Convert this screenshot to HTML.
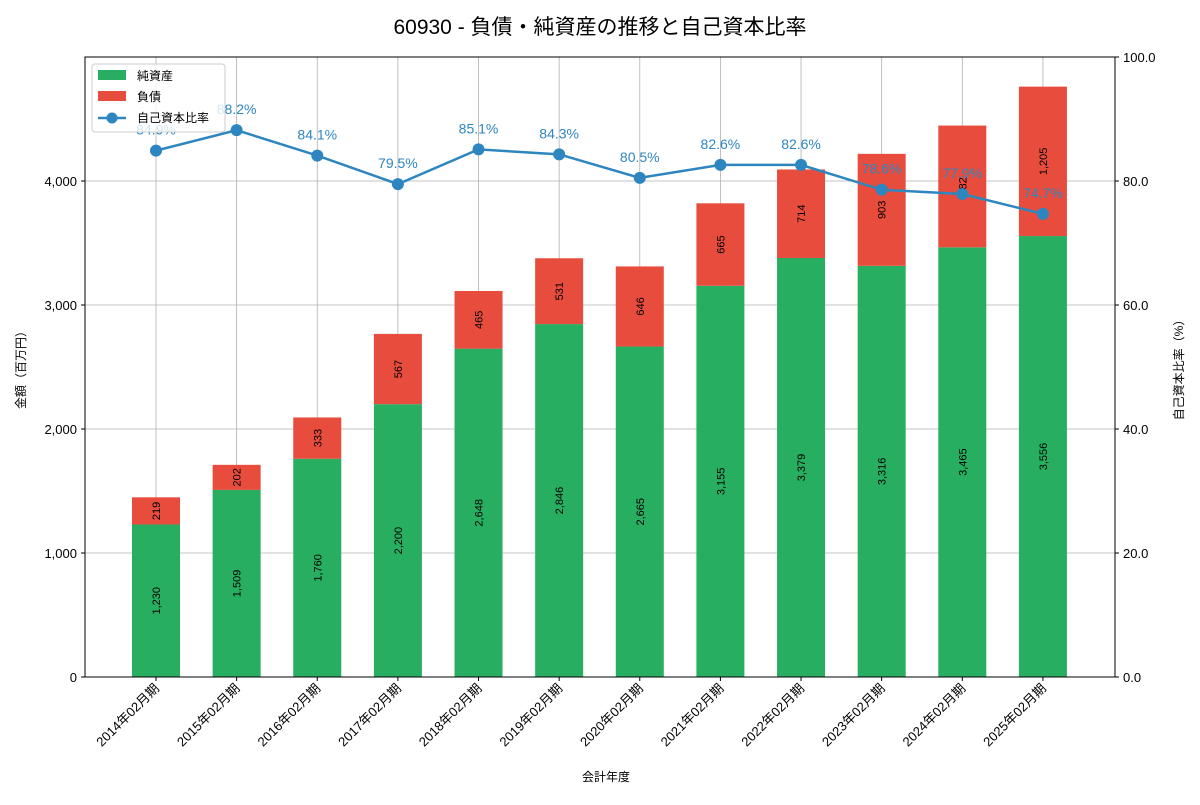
<!DOCTYPE html>
<html><head><meta charset="utf-8"><style>
body{margin:0;background:#fff;}
svg{font-family:"Liberation Sans","Noto Sans CJK JP",sans-serif;}
</style></head><body>
<svg id="c" width="1200" height="800" xmlns="http://www.w3.org/2000/svg">
<text x="600" y="34" text-anchor="middle" font-size="21" fill="#000">60930 - 負債・純資産の推移と自己資本比率</text>
<g id="grid"></g><g id="bars"></g><g id="line"></g><g id="axes"></g>
<text x="606" y="781" text-anchor="middle" font-size="12">会計年度</text>
<text transform="translate(25,367) rotate(-90)" text-anchor="middle" font-size="12">金額（百万円）</text>
<text transform="translate(1183,367) rotate(-90)" text-anchor="middle" font-size="12">自己資本比率（%）</text>
<g>
<rect x="92" y="64" width="133" height="68" fill="#fff" fill-opacity="0.8" stroke="#ccc" rx="3"/>
<rect x="98" y="70" width="28" height="10" fill="#27ae60"/><text x="137" y="80" font-size="12">純資産</text>
<rect x="98" y="91" width="28" height="10" fill="#e74c3c"/><text x="137" y="101" font-size="12">負債</text>
<line x1="98" y1="118" x2="126" y2="118" stroke="#2e86c1" stroke-width="2.5"/><circle cx="112" cy="118" r="5.5" fill="#2e86c1"/><text x="137" y="122" font-size="12">自己資本比率</text>
</g>
</svg>
<script>
const categories=["2014年02月期","2015年02月期","2016年02月期","2017年02月期","2018年02月期","2019年02月期","2020年02月期","2021年02月期","2022年02月期","2023年02月期","2024年02月期","2025年02月期"];
const equity=[1230,1509,1760,2200,2648,2846,2665,3155,3379,3316,3465,3556];
const debt=[219,202,333,567,465,531,646,665,714,903,982,1205];
const ratio=[84.9,88.2,84.1,79.5,85.1,84.3,80.5,82.6,82.6,78.6,77.9,74.7];
const yTicks=[0,1000,2000,3000,4000];
const y2Ticks=[0,20,40,60,80,100];
const NS="http://www.w3.org/2000/svg";
const L=85,R=1115,T=57,B=677;
const x=i=>156+i*80.63;
const y=v=>B-(v/5000)*(B-T);
const y2=v=>B-(v/100)*(B-T);
function mk(p,tag,a,txt){const e=document.createElementNS(NS,tag);for(const k in a)e.setAttribute(k,a[k]);if(txt!==undefined)e.textContent=txt;document.getElementById(p).appendChild(e);return e;}
const fmt=v=>v.toLocaleString('en-US');
categories.forEach((c,i)=>{const g=mk('grid','line',{x1:x(i),x2:x(i),y1:T,y2:B,stroke:'#b0b0b0','stroke-width':0.8});

});
yTicks.forEach(v=>{const g=mk('grid','line',{x1:L,x2:R,y1:y(v),y2:y(v),stroke:'#b0b0b0','stroke-width':0.8});


mk('axes','line',{x1:L-4,x2:L,y1:y(v),y2:y(v),stroke:'#000'});
const t=mk('axes','text',{x:L-8,y:y(v)+5,'text-anchor':'end','font-size':13},fmt(v));

});
y2Ticks.forEach(v=>{mk('axes','line',{x1:R,x2:R+4,y1:y2(v),y2:y2(v),stroke:'#000'});
const t=mk('axes','text',{x:R+8,y:y2(v)+5,'font-size':13},v.toFixed(1));

});
const bw=48;
categories.forEach((c,i)=>{
const b1=mk('bars','rect',{x:x(i)-bw/2,y:y(equity[i]),width:bw,height:B-y(equity[i]),fill:'#27ae60'});


const b2=mk('bars','rect',{x:x(i)-bw/2,y:y(equity[i]+debt[i]),width:bw,height:y(equity[i])-y(equity[i]+debt[i]),fill:'#e74c3c'});


const cy1=(y(0)+y(equity[i]))/2,cy2=(y(equity[i])+y(equity[i]+debt[i]))/2;
const l1=mk('bars','text',{transform:`translate(${x(i)+4},${cy1}) rotate(-90)`,'text-anchor':'middle','font-size':11},fmt(equity[i]));


const l2=mk('bars','text',{transform:`translate(${x(i)+4},${cy2}) rotate(-90)`,'text-anchor':'middle','font-size':11},fmt(debt[i]));


const tl=mk('axes','text',{transform:`translate(${x(i)+4},${B+12}) rotate(-45)`,'text-anchor':'end','font-size':13},c);


mk('axes','line',{x1:x(i),x2:x(i),y1:B,y2:B+4,stroke:'#000'});
});
const pl=mk('line','polyline',{points:ratio.map((v,i)=>x(i)+','+y2(v)).join(' '),fill:'none',stroke:'#2e86c1','stroke-width':2.5});


ratio.forEach((v,i)=>{const p=mk('line','circle',{cx:x(i),cy:y2(v),r:6,fill:'#2e86c1'});


const t=mk('line','text',{x:x(i),y:y2(v)-16,'text-anchor':'middle','font-size':14,fill:'#2e86c1'},v.toFixed(1)+'%');

});
const f=mk('axes','rect',{x:L,y:T,width:R-L,height:B-T,fill:'none',stroke:'#000','stroke-width':1});


</script>
</body></html>
